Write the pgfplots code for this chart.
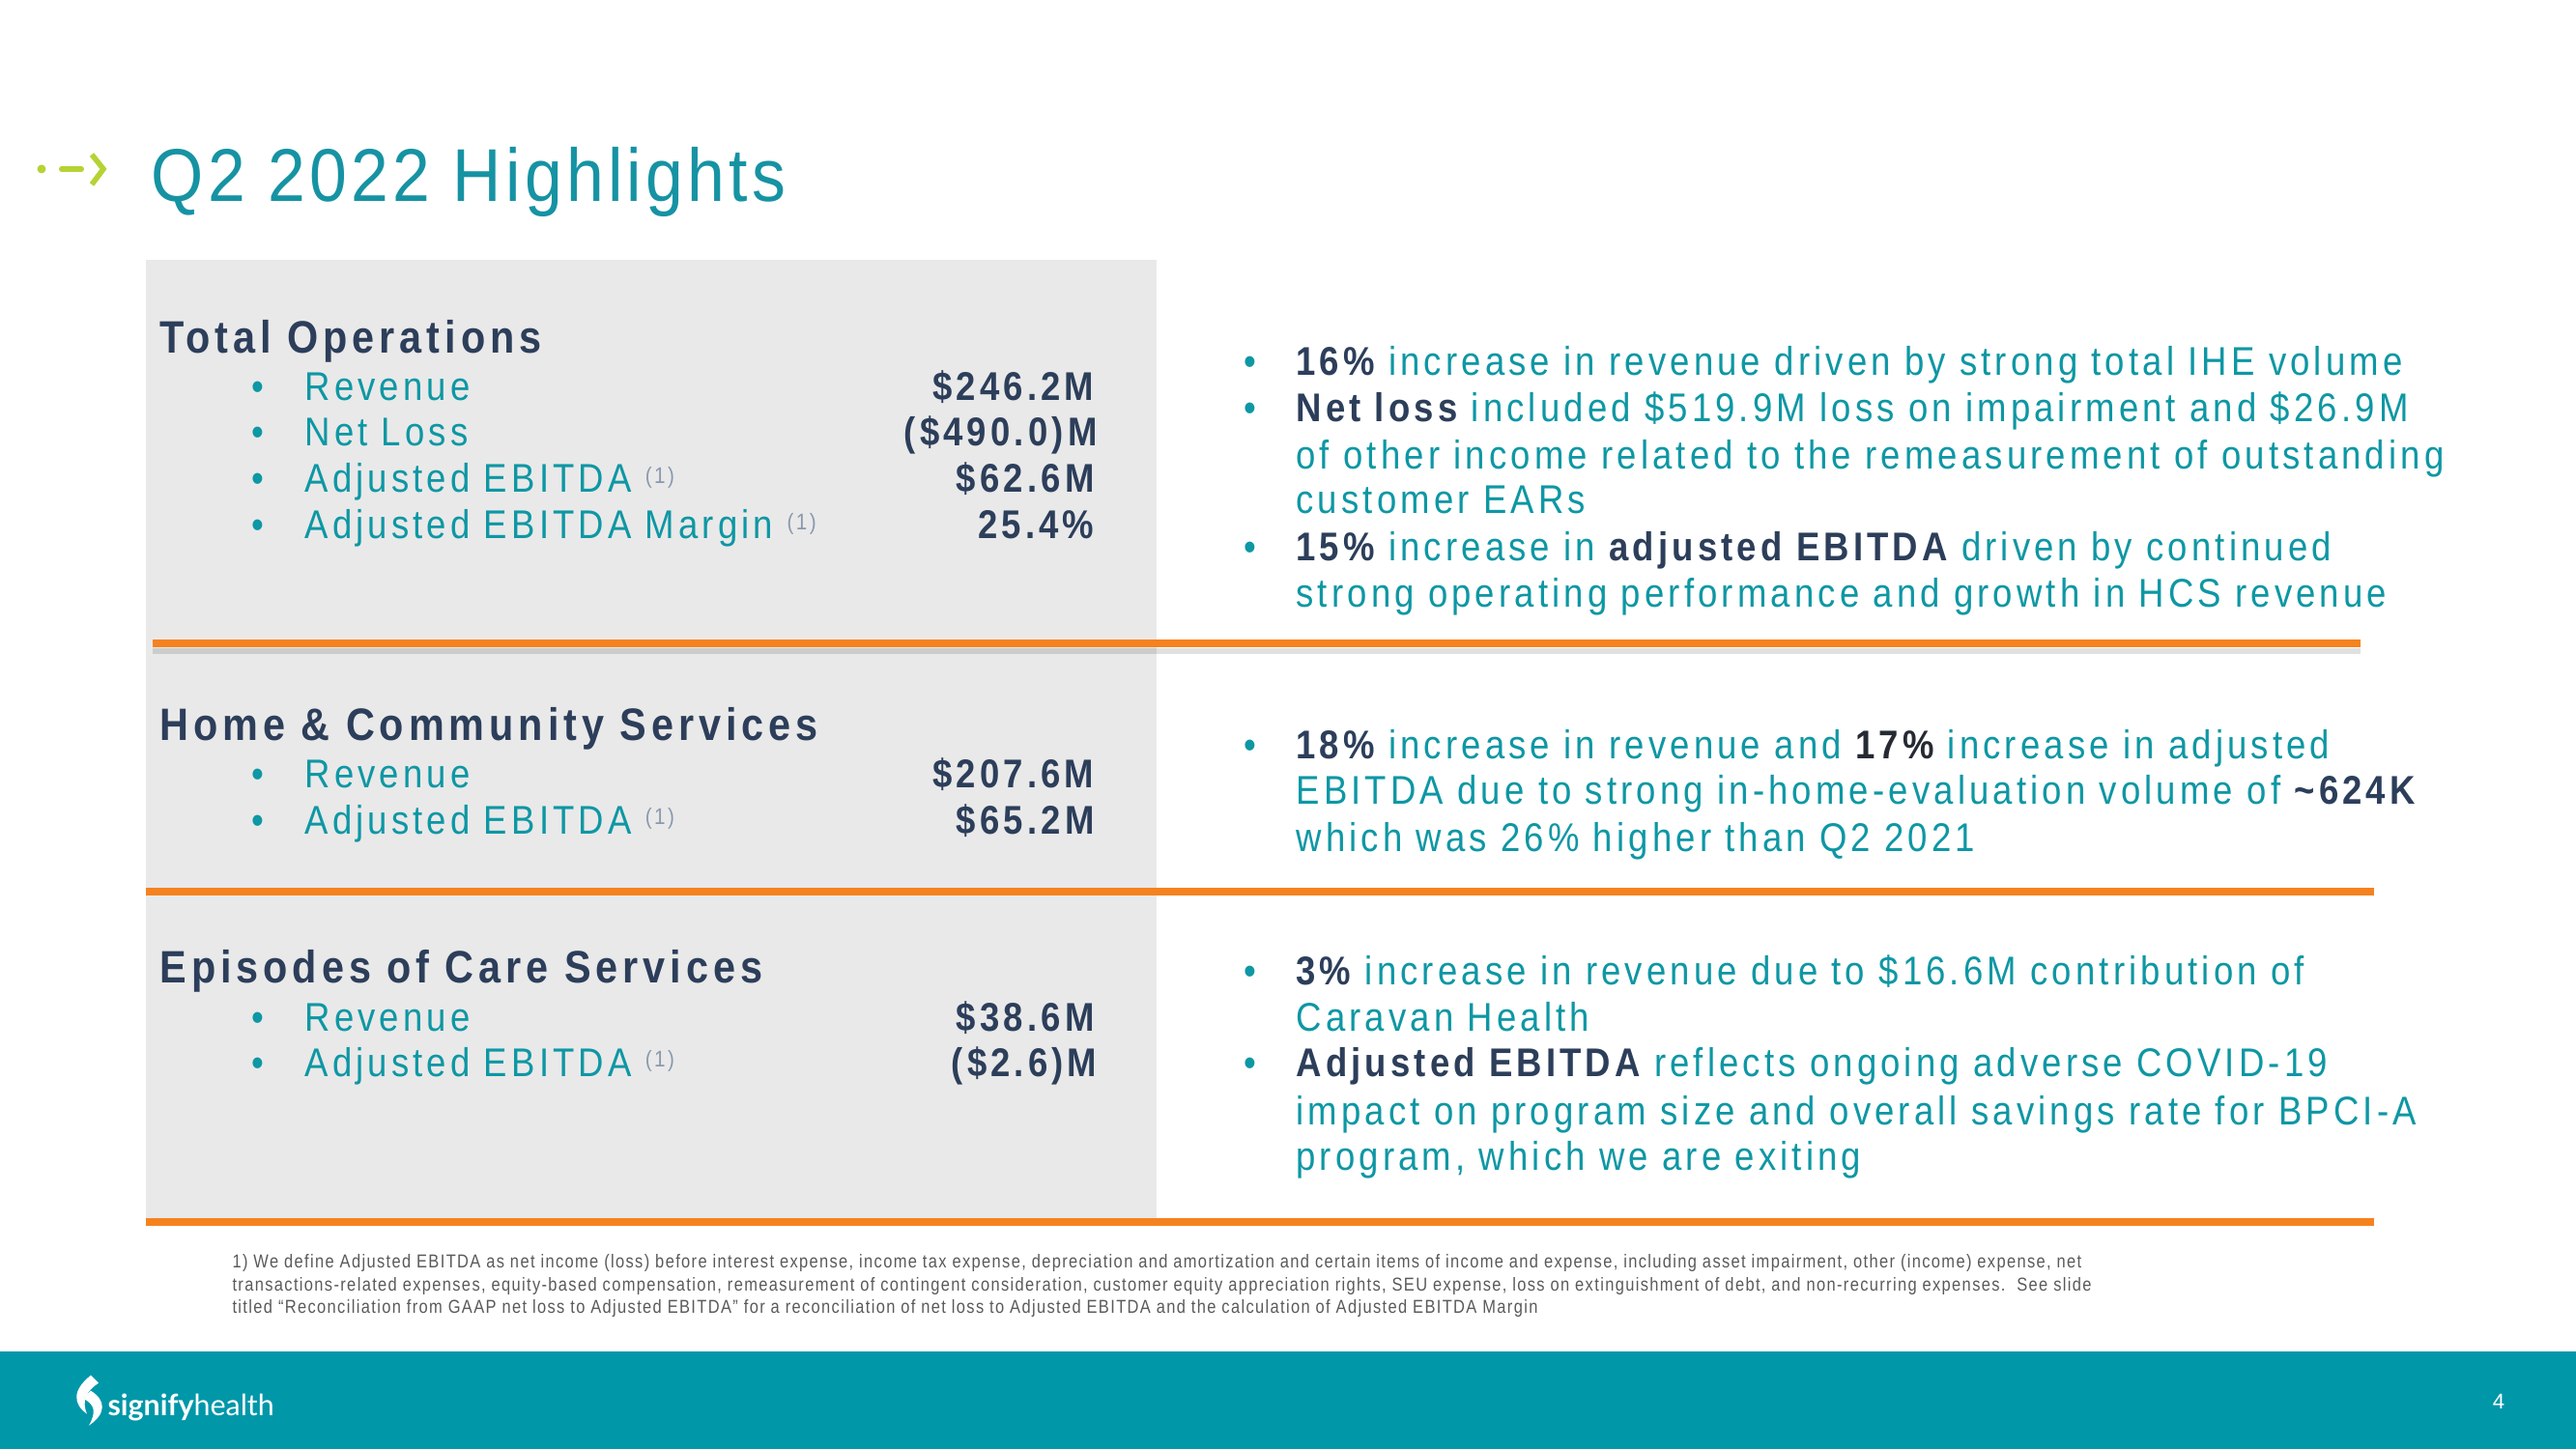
\documentclass[border=0pt]{standalone}
\usepackage{pgfplots}
\pgfplotsset{compat=1.18}
\usepackage{fontspec}
\setmainfont{Liberation Sans}
\newfontfamily\bodyfont{Liberation Sans}[FakeStretch=0.88,LetterSpace=10]
\newfontfamily\headfont{Liberation Sans}[FakeStretch=0.88,LetterSpace=10.5]
\newfontfamily\titlefont{Liberation Sans}[FakeStretch=0.9,LetterSpace=5.5]
\newfontfamily\footfont{Liberation Sans}[FakeStretch=0.85,LetterSpace=7]
\newfontfamily\logofont{Lato}
\definecolor{tealtxt}{HTML}{0E97A4}
\definecolor{titleteal}{HTML}{1693A3}
\definecolor{navy}{HTML}{2C3E5A}
\definecolor{darktxt}{HTML}{262A33}
\definecolor{orangeline}{HTML}{F5821F}
\definecolor{panelgray}{HTML}{E9E9E9}
\definecolor{footerteal}{HTML}{0097A9}
\definecolor{supgray}{HTML}{8A99AE}
\definecolor{footgray}{HTML}{5A5A5A}
\definecolor{lime}{HTML}{B5D334}
\newcommand{\bodysize}{\bodyfont\fontsize{15}{18}\selectfont}
\newcommand{\headsize}{\headfont\bfseries\fontsize{17}{20}\selectfont}
\newcommand{\valsize}{\bodyfont\bfseries\fontsize{15}{18}\selectfont}
\newcommand{\supone}{\ \raisebox{0.45ex}{\color{supgray}\bodyfont\fontsize{8.5}{9}\selectfont(1)}}
\newcommand{\B}[1]{{\color{navy}\bfseries #1}}
\newcommand{\LB}[2]{\node[anchor=base west, inner sep=0, text=tealtxt] at (axis cs:260,#1) {\bodysize •};
  \node[anchor=base west, inner sep=0, text=tealtxt] at (axis cs:315,#1) {\bodysize #2};}
\newcommand{\RT}[2]{\node[anchor=base west, inner sep=0, text=tealtxt] at (axis cs:1341,#1) {\bodysize #2};}
\newcommand{\RB}[1]{\node[anchor=base west, inner sep=0, text=tealtxt] at (axis cs:1287,#1) {\bodysize •};}
\newcommand{\VAL}[3]{\node[anchor=base east, inner sep=0, text=navy] at (axis cs:#1,#2) {\valsize #3};}
\begin{document}
\begin{tikzpicture}
\begin{axis}[hide axis, scale only axis, width=960bp, height=540bp,
  xmin=0, xmax=2666, ymin=0, ymax=1500, y dir=reverse, clip=false,
  enlargelimits=false]
% background
\addplot[fill=white, draw=none] coordinates {(0,0) (2666,0) (2666,1500) (0,1500)} --cycle;
% gray panel
\addplot[fill=panelgray, draw=none] coordinates {(151,269) (1197,269) (1197,1262) (151,1262)} --cycle;
% footer band
\addplot[fill=footerteal, draw=none] coordinates {(0,1399) (2666,1399) (2666,1500) (0,1500)} --cycle;
% orange separators (with faint shadow)
\addplot[draw=black, opacity=0.12, line width=2bp] coordinates {(158,674) (2443,674)};
\addplot[draw=orangeline, line width=3bp] coordinates {(158,666) (2443,666)};
\addplot[draw=orangeline, line width=3bp] coordinates {(151,923) (2457,923)};
\addplot[draw=orangeline, line width=3bp] coordinates {(151,1265) (2457,1265)};
% title icon
\addplot[only marks, mark=*, mark size=1.4bp, color=lime] coordinates {(43,175)};
\addplot[draw=lime, line width=2.2bp, line cap=round] coordinates {(64,175) (84,175)};
\addplot[draw=lime, line width=2bp] coordinates {(95,160) (107,175) (95,191)};
% title
\node[anchor=base west, inner sep=0, text=titleteal] at (axis cs:156,209) {\titlefont\fontsize{28}{32}\selectfont Q2 2022 Highlights};

% left column: Total Operations
\node[anchor=base west, inner sep=0, text=navy] at (axis cs:165,366) {\headsize Total Operations};
\LB{415}{Revenue}
\LB{462}{Net Loss}
\LB{510}{Adjusted EBITDA\supone}
\LB{558}{Adjusted EBITDA Margin\supone}
\VAL{1133}{415}{\$246.2M}
\VAL{1136}{462}{(\$490.0)M}
\VAL{1133}{510}{\$62.6M}
\VAL{1133}{558}{25.4\%}

% Home & Community Services
\node[anchor=base west, inner sep=0, text=navy] at (axis cs:165,767) {\headsize Home \& Community Services};
\LB{816}{Revenue}
\LB{864}{Adjusted EBITDA\supone}
\VAL{1133}{816}{\$207.6M}
\VAL{1133}{864}{\$65.2M}

% Episodes of Care Services
\node[anchor=base west, inner sep=0, text=navy] at (axis cs:165,1018) {\headsize Episodes of Care Services};
\LB{1068}{Revenue}
\LB{1115}{Adjusted EBITDA\supone}
\VAL{1133}{1068}{\$38.6M}
\VAL{1136}{1115}{(\$2.6)M}

% right column
\RB{389}\RB{437}\RB{581}\RB{786}\RB{1020}\RB{1115}
\RT{389}{\B{16\%} increase in revenue driven by strong total IHE volume}
\RT{437}{\B{Net loss} included \$519.9M loss on impairment and \$26.9M}
\RT{486}{of other income related to the remeasurement of outstanding}
\RT{532}{customer EARs}
\RT{581}{\B{15\%} increase in \B{adjusted EBITDA} driven by continued}
\RT{629}{strong operating performance and growth in HCS revenue}

\RT{786}{\B{18\%} increase in revenue and {\color{darktxt}\bfseries 17\%} increase in adjusted}
\RT{833}{EBITDA due to strong in-home-evaluation volume of \B{\textasciitilde624K}}
\RT{882}{which was 26\% higher than Q2 2021}

\RT{1020}{\B{3\%} increase in revenue due to \$16.6M contribution of}
\RT{1068}{Caravan Health}
\RT{1115}{\B{Adjusted EBITDA} reflects ongoing adverse COVID-19}
\RT{1165}{impact on program size and overall savings rate for BPCI-A}
\RT{1212}{program, which we are exiting}

% footnote
\node[anchor=base west, inner sep=0, text=footgray] at (axis cs:240,1313) {\footfont\fontsize{7}{8}\selectfont 1) We define Adjusted EBITDA as net income (loss) before interest expense, income tax expense, depreciation and amortization and certain items of income and expense, including asset impairment, other (income) expense, net};
\node[anchor=base west, inner sep=0, text=footgray] at (axis cs:240,1337) {\footfont\fontsize{7}{8}\selectfont transactions-related expenses, equity-based compensation, remeasurement of contingent consideration, customer equity appreciation rights, SEU expense, loss on extinguishment of debt, and non-recurring expenses.\ \ See slide};
\node[anchor=base west, inner sep=0, text=footgray] at (axis cs:240,1360) {\footfont\fontsize{7}{8}\selectfont titled “Reconciliation from GAAP net loss to Adjusted EBITDA” for a reconciliation of net loss to Adjusted EBITDA and the calculation of Adjusted EBITDA Margin};

% logo
\fill[white] (axis cs:94,1424) .. controls (axis cs:74,1440) and (axis cs:76,1454) .. (axis cs:90,1464) .. controls (axis cs:84,1450) and (axis cs:90,1440) .. (axis cs:102,1432) -- cycle;
\fill[white] (axis cs:94,1440) .. controls (axis cs:110,1450) and (axis cs:110,1464) .. (axis cs:92,1476) .. controls (axis cs:100,1462) and (axis cs:98,1454) .. (axis cs:86,1448) -- cycle;
\node[anchor=base west, inner sep=0, text=white] at (axis cs:111,1466) {\logofont\fontsize{11}{12}\selectfont\bfseries signify\mdseries health};
% page number
\node[anchor=center, inner sep=0, text=white] at (axis cs:2586,1451) {\fontsize{8}{10}\selectfont 4};
\end{axis}
\end{tikzpicture}
\end{document}
